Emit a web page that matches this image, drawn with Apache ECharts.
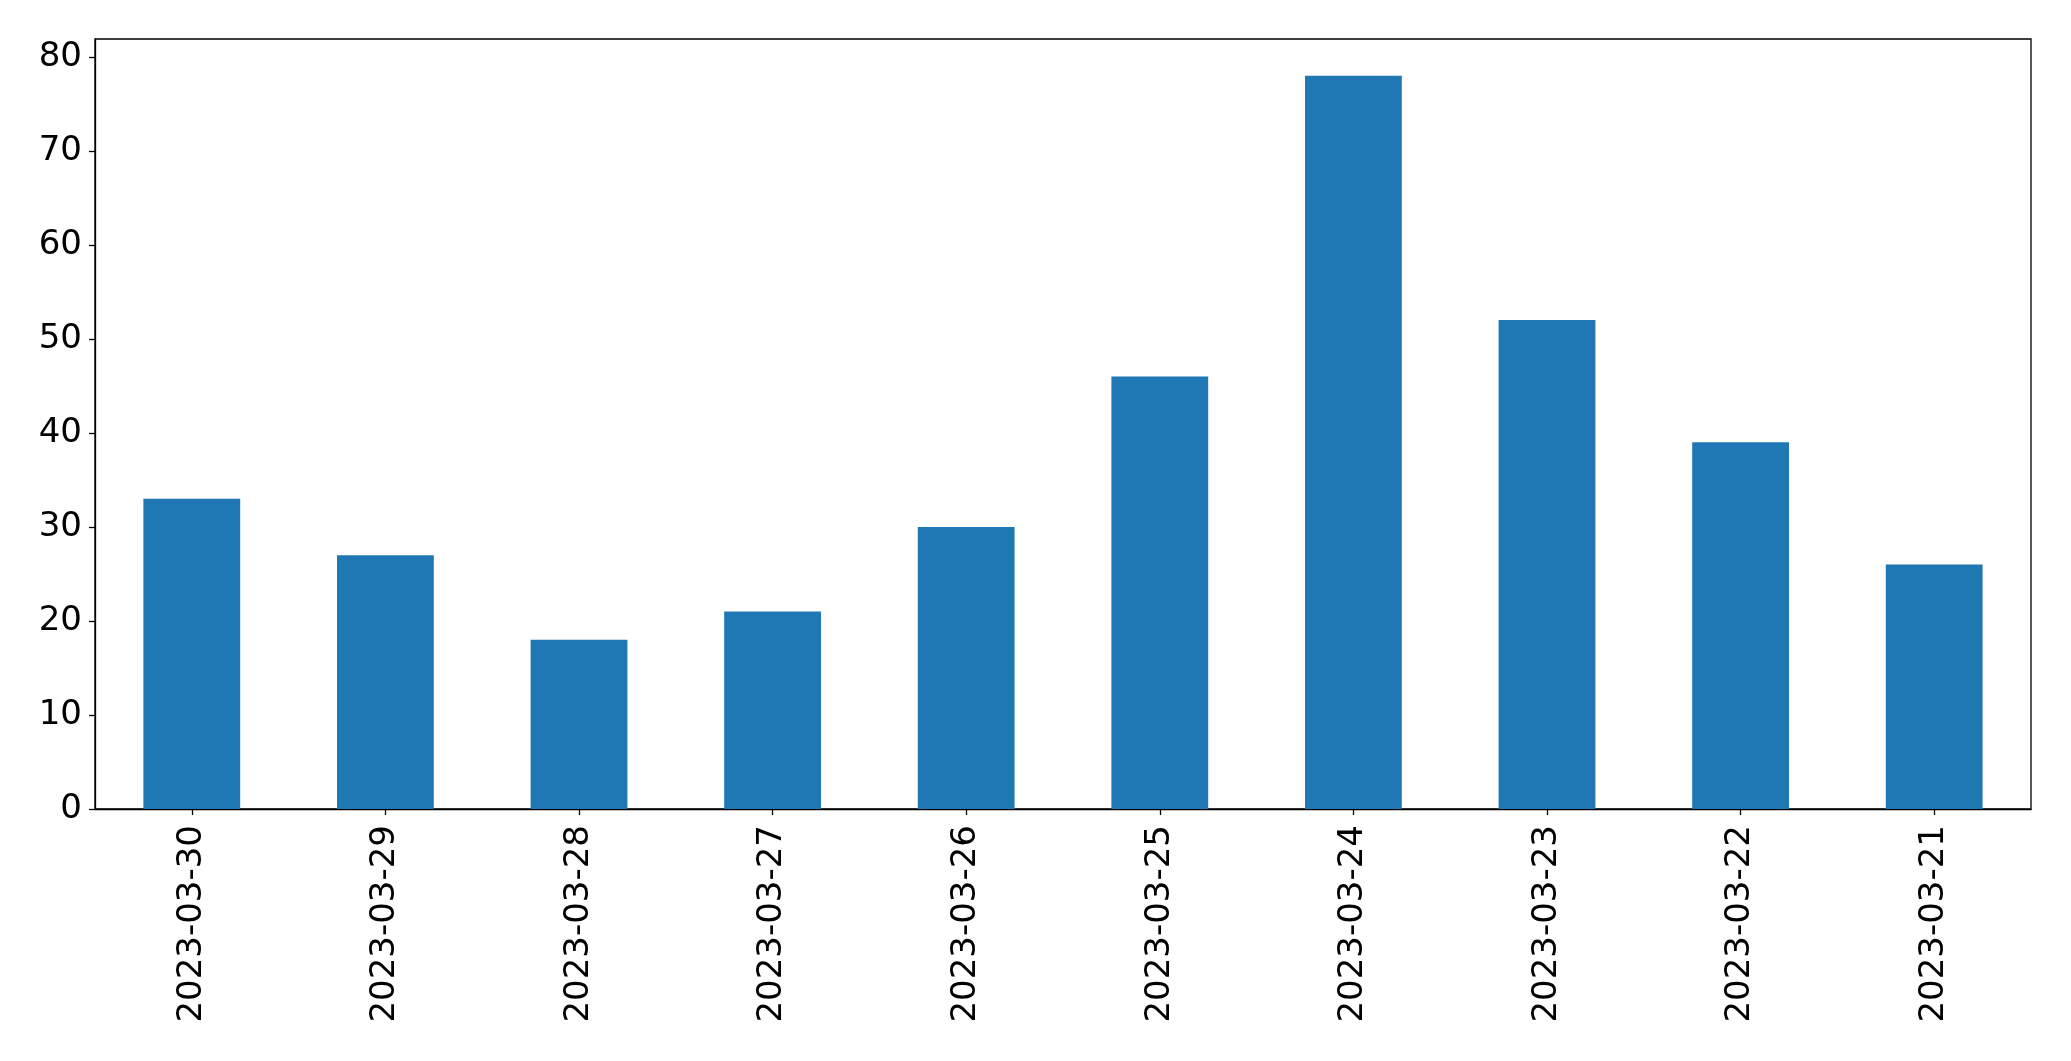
<!DOCTYPE html>
<html>
<head>
<meta charset="utf-8">
<script src="https://cdn.jsdelivr.net/npm/echarts@6/dist/echarts.min.js"></script>
<style>
html,body{margin:0;padding:0;background:#fff;}
#chart{width:2071px;height:1061px;}
</style>
</head>
<body>
<div id="chart"></div>
<script>
const categories = ['2023-03-30','2023-03-29','2023-03-28','2023-03-27','2023-03-26','2023-03-25','2023-03-24','2023-03-23','2023-03-22','2023-03-21'];
const values = [33, 27, 18, 21, 30, 46, 78, 52, 39, 26];
const yTicks = [0, 10, 20, 30, 40, 50, 60, 70, 80];

const chart = echarts.init(document.getElementById('chart'), null, {renderer: 'canvas'});
const font = 'DejaVu Sans';
chart.setOption({
  animation: false,
  backgroundColor: '#ffffff',
  grid: {
    left: 95, top: 39, right: 40, bottom: 252,
    show: true, borderColor: '#000', borderWidth: 1.3, backgroundColor: 'transparent'
  },
  xAxis: {
    type: 'category',
    data: categories,
    boundaryGap: true,
    axisLine: {show: true, lineStyle: {color: '#000', width: 1.3}},
    axisTick: {show: true, alignWithLabel: true, length: 6, lineStyle: {color: '#000', width: 1.3}},
    axisLabel: {rotate: 90, margin: 16, fontSize: 34, fontFamily: font, color: '#000', interval: 0},
    splitLine: {show: false}
  },
  yAxis: {
    type: 'value',
    min: 0,
    max: 81.9,
    interval: 10,
    axisLine: {show: true, lineStyle: {color: '#000', width: 1.3}},
    axisTick: {show: true, length: 6, lineStyle: {color: '#000', width: 1.3}, customValues: yTicks},
    axisLabel: {margin: 13, fontSize: 34, fontFamily: font, color: '#000', customValues: yTicks},
    splitLine: {show: false}
  },
  series: [{
    type: 'bar',
    data: values,
    barWidth: '50%',
    itemStyle: {color: '#1f77b4'}
  }]
});
</script>
</body>
</html>
